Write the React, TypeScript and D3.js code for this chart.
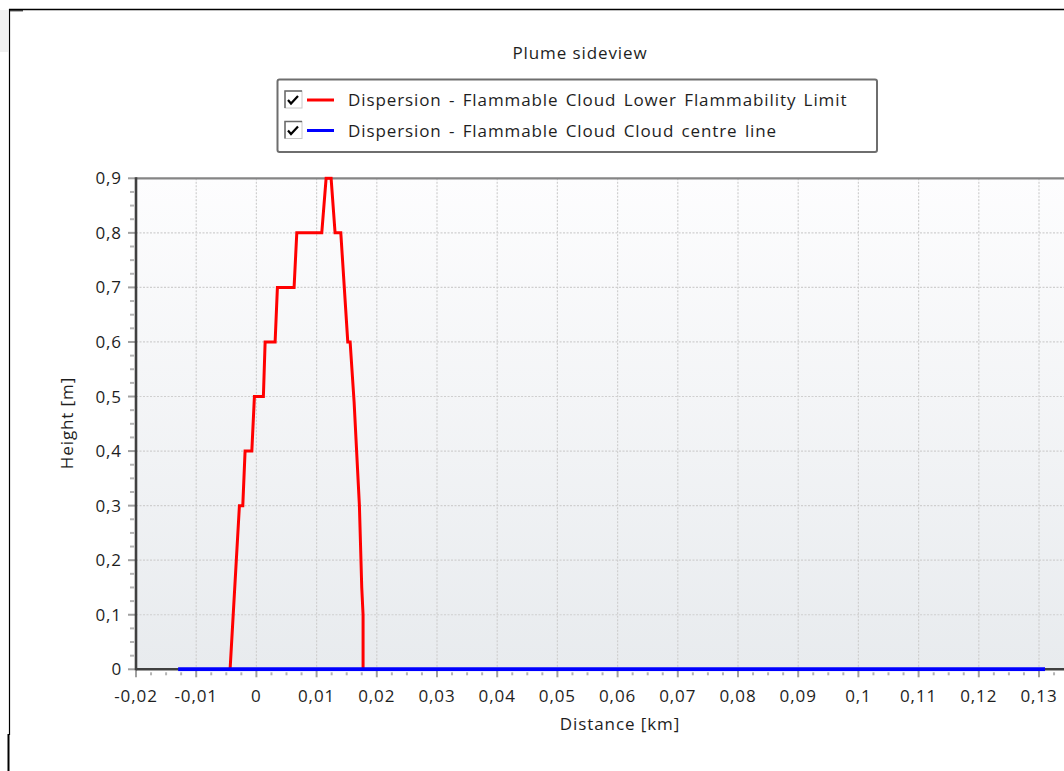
import React from "react";
import * as d3 from "d3";

const lflX: number[] = [-0.00437, -0.00282, -0.00226, -0.00188, -0.00076, -0.00033, 0.00116, 0.00145, 0.00311, 0.00349, 0.00626, 0.00671, 0.01086, 0.01158, 0.01241, 0.01307, 0.01402, 0.01518, 0.01557, 0.01623, 0.01711, 0.01750, 0.01772, 0.01772];
const lflY: number[] = [0, 0.3, 0.3, 0.4, 0.4, 0.5, 0.5, 0.6, 0.6, 0.7, 0.7, 0.8, 0.8, 0.9, 0.9, 0.8, 0.8, 0.6, 0.6, 0.49, 0.3, 0.15, 0.1, 0];
const centreX: number[] = [-0.0130, 0.1310];
const centreY: number[] = [0, 0];
const xTicks: number[] = [-0.02, -0.01, 0, 0.01, 0.02, 0.03, 0.04, 0.05, 0.06, 0.07, 0.08, 0.09, 0.1, 0.11, 0.12, 0.13];
const yTicks: number[] = [0, 0.1, 0.2, 0.3, 0.4, 0.5, 0.6, 0.7, 0.8, 0.9];
const legendLabels: string[] = [
  "Dispersion - Flammable Cloud Lower Flammability Limit",
  "Dispersion - Flammable Cloud Cloud centre line",
];
const legendColors: string[] = ["#ff0000", "#0000ff"];
const title = "Plume sideview";
const xTitle = "Distance [km]";
const yTitle = "Height [m]";

const W = 1064;
const H = 771;
const FONT = "'Open Sans', 'Noto Sans', sans-serif";
const FS = 17;
const LS = 0.9;

const fmt = (v: number) => {
  const s = d3.format("~g")(Math.round(v * 1000) / 1000);
  return s.replace(".", ",").replace("−", "-");
};

export default function App() {
  const x = d3.scaleLinear().domain([-0.02, 0.13]).range([136, 1039]);
  const y = d3.scaleLinear().domain([0, 0.9]).range([669.3, 178.3]);
  const left = 136;
  const right = W + 20;
  const top = y(0.9);
  const bottom = y(0);

  const line = d3
    .line<[number, number]>()
    .x((d) => x(d[0]))
    .y((d) => y(d[1]));
  const lfl: [number, number][] = lflX.map((v, i) => [v, lflY[i]]);
  const centre: [number, number][] = centreX.map((v, i) => [v, centreY[i]]);

  const xMinor: number[] = [];
  for (let i = 0; i < xTicks.length; i++) {
    for (let k = 1; k < 4; k++) xMinor.push(xTicks[i] + (k * 0.01) / 4);
  }
  const yMinor: number[] = [];
  for (let i = 0; i < yTicks.length - 1; i++) {
    for (let k = 1; k < 4; k++) yMinor.push(yTicks[i] + (k * 0.1) / 4);
  }

  const check = (cx: number, cy: number) =>
    `M${cx - 5},${cy} L${cx - 2},${cy + 3.5} L${cx + 5},${cy - 4}`;

  const txt = { fontFamily: FONT, fontSize: FS, fill: "#1e1e1e", letterSpacing: LS } as const;

  return (
    <div style={{ position: "absolute", left: 0, top: 0, width: W, height: H, overflow: "hidden", background: "#fff" }}>
      <svg width={W} height={H} style={{ display: "block" }}>
        <defs>
          <linearGradient id="bg" x1="0" y1="0" x2="0" y2="1">
            <stop offset="0" stopColor="#fdfdfe" />
            <stop offset="1" stopColor="#e8ebee" />
          </linearGradient>
          <clipPath id="plotclip">
            <rect x={left} y={top - 2} width={right - left} height={bottom - top + 4} />
          </clipPath>
        </defs>

        {/* window frame */}
        <rect x={0} y={10} width={8} height={42} fill="#f0f0f0" />
        <line x1={9} y1={9.5} x2={W} y2={9.5} stroke="#000" strokeWidth={1.3} />
        <line x1={9.5} y1={9} x2={9.5} y2={735} stroke="#000" strokeWidth={1.2} />
        <line x1={10} y1={10.8} x2={23} y2={10.8} stroke="#000" strokeWidth={1} />
        <line x1={8.5} y1={734} x2={8.5} y2={H} stroke="#000" strokeWidth={2} />

        {/* title */}
        <text x={580} y={59} textAnchor="middle" {...txt}>
          {title}
        </text>

        {/* legend */}
        <rect x={277.5} y={79.5} width={599.5} height={72.5} rx={2} fill="#fff" stroke="#6e6e6e" strokeWidth={2} />
        {legendLabels.map((lab, i) => {
          const cy = 100 + i * 30.5;
          return (
            <g key={lab}>
              <rect x={285} y={cy - 9} width={17} height={17} fill="#fff" stroke="#c8c8c8" strokeWidth={1} />
              <path d={`M285,${cy + 8} L285,${cy - 9} L302,${cy - 9}`} fill="none" stroke="#6a6a6a" strokeWidth={1.5} />
              <path d={check(293, cy)} fill="none" stroke="#000" strokeWidth={2.2} />
              <line x1={307} x2={334} y1={cy} y2={cy} stroke={legendColors[i]} strokeWidth={3} />
              <text x={348} y={cy + 6} {...txt} wordSpacing={2}>
                {lab}
              </text>
            </g>
          );
        })}

        {/* plot background */}
        <rect x={left} y={top} width={right - left} height={bottom - top} fill="url(#bg)" />

        {/* grid */}
        {xTicks.slice(1).map((t) => (
          <line key={"gx" + t} x1={x(t)} x2={x(t)} y1={top} y2={bottom} stroke="#cfcfcf" strokeWidth={1.2} strokeDasharray="2,1.5" />
        ))}
        {yTicks.slice(1, -1).map((t) => (
          <line key={"gy" + t} x1={left} x2={right} y1={y(t)} y2={y(t)} stroke="#cfcfcf" strokeWidth={1.2} strokeDasharray="2,1.5" />
        ))}

        {/* ticks */}
        {xTicks.map((t) => (
          <line key={"tx" + t} x1={x(t)} x2={x(t)} y1={bottom} y2={bottom + 8} stroke="#a0a0a0" strokeWidth={2} />
        ))}
        {xMinor.map((t) => (
          <line key={"mx" + t} x1={x(t)} x2={x(t)} y1={bottom + 3} y2={bottom + 6} stroke="#b4b4b4" strokeWidth={2} />
        ))}
        {yTicks.map((t) => (
          <line key={"ty" + t} x1={left - 8} x2={left} y1={y(t)} y2={y(t)} stroke="#a0a0a0" strokeWidth={2} />
        ))}
        {yMinor.map((t) => (
          <line key={"my" + t} x1={left - 6} x2={left - 2} y1={y(t)} y2={y(t)} stroke="#b4b4b4" strokeWidth={2} />
        ))}

        {/* axis frame */}
        <line x1={left} x2={right} y1={top} y2={top} stroke="#858585" strokeWidth={2.2} />
        <line x1={left} x2={left} y1={top - 1} y2={bottom + 1} stroke="#404040" strokeWidth={2.6} />
        <line x1={left} x2={right} y1={bottom} y2={bottom} stroke="#404040" strokeWidth={2.6} />

        {/* series */}
        <g clipPath="url(#plotclip)">
          <path d={line(lfl) || ""} fill="none" stroke={legendColors[0]} strokeWidth={3} strokeLinejoin="miter" />
          <path d={line(centre) || ""} fill="none" stroke={legendColors[1]} strokeWidth={4} />
        </g>

        {/* tick labels */}
        {xTicks.map((t) => (
          <text key={"lx" + t} x={x(t)} y={702} textAnchor="middle" {...txt}>
            {fmt(t)}
          </text>
        ))}
        {yTicks.map((t) => (
          <text key={"ly" + t} x={122} y={y(t) + 6} textAnchor="end" {...txt}>
            {fmt(t)}
          </text>
        ))}

        {/* axis titles */}
        <text x={620} y={730} textAnchor="middle" {...txt}>
          {xTitle}
        </text>
        <text transform={`translate(73,423) rotate(-90)`} textAnchor="middle" {...txt}>
          {yTitle}
        </text>
      </svg>
    </div>
  );
}
